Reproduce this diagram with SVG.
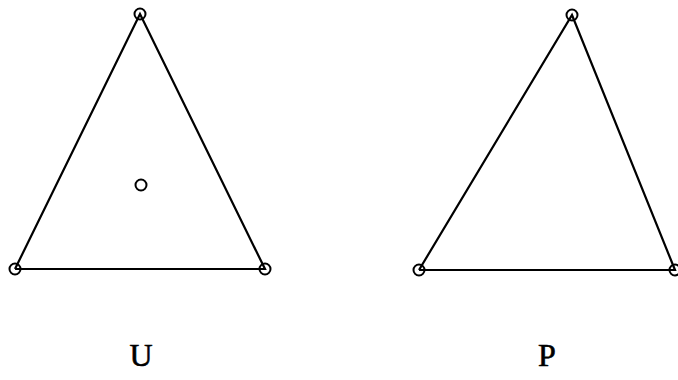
<svg xmlns="http://www.w3.org/2000/svg" width="678" height="380" viewBox="0 0 678 380">
<style>
.edge{stroke:#000;stroke-width:2.2;fill:none}
.v{stroke:#000;stroke-width:2;fill:none}
.lbl{font-family:"Liberation Serif",serif;font-size:32px;fill:#000;stroke:#000;stroke-width:0.6;text-anchor:middle}
</style>
<rect width="678" height="380" fill="#fff"/>
<g id="connectors">
<polyline class="edge" points="15,269 140,14 265,269 15,269"/>
<polyline class="edge" points="419,270 572,15 675,270 419,270"/>
</g>
<g id="U">
<circle class="v" cx="140" cy="14" r="5.5"/>
<circle class="v" cx="15" cy="269" r="5.5"/>
<circle class="v" cx="265" cy="269" r="5.5"/>
<circle class="v" cx="141" cy="185" r="5.5"/>
<text class="lbl" x="141" y="366">U</text>
</g>
<g id="P">
<circle class="v" cx="572" cy="15" r="5.5"/>
<circle class="v" cx="419" cy="270" r="5.5"/>
<circle class="v" cx="675" cy="270" r="5.5"/>
<text class="lbl" x="547" y="366">P</text>
</g>
</svg>
